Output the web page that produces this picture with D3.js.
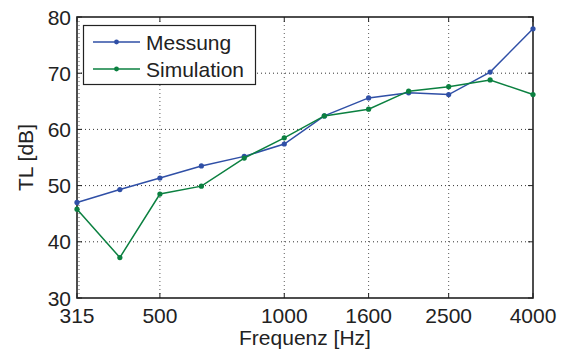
<!DOCTYPE html>
<html><head><meta charset="utf-8">
<script src="https://cdn.jsdelivr.net/npm/d3@7"></script>
<style>body{margin:0;background:#fff}svg{display:block}text{font-family:"Liberation Sans",Arial,sans-serif;fill:#222}</style>
</head><body>
<svg id="c" width="565" height="354"></svg>
<script>
const freqs = [315, 400, 500, 630, 800, 1000, 1250, 1600, 2000, 2500, 3150, 4000];
const messung = [47.0, 49.3, 51.35, 53.5, 55.2, 57.4, 62.4, 65.6, 66.5, 66.2, 70.2, 77.9];
const simulation = [45.8, 37.2, 48.5, 49.9, 54.9, 58.5, 62.4, 63.6, 66.8, 67.6, 68.8, 66.2];
const xTicks = [315, 500, 1000, 1600, 2500, 4000];
const yTicks = [30, 40, 50, 60, 70, 80];
const seriesNames = ["Messung", "Simulation"];
const colors = ["#2f4fa6", "#0b8040"];

const svg = d3.select("#c");
const L = 77, R = 533, T = 17, B = 298;
const FS = 21;
const x = d3.scaleLog().domain([315, 4000]).range([L, R]);
const y = d3.scaleLinear().domain([30, 80]).range([B, T]);

// grid
const g = svg.append("g");
g.selectAll(".hg").data(yTicks.slice(1, -1)).join("line")
  .attr("x1", L).attr("x2", R).attr("y1", d => y(d)).attr("y2", d => y(d))
  .attr("stroke", "#333").attr("stroke-width", 1).attr("stroke-dasharray", "1,3");
g.selectAll(".vg").data(xTicks.slice(0, -1)).join("line")
  .attr("x1", d => x(d) + (d === 315 ? 2 : 0)).attr("x2", d => x(d) + (d === 315 ? 2 : 0))
  .attr("y1", T).attr("y2", B)
  .attr("stroke", "#333").attr("stroke-width", 1).attr("stroke-dasharray", "1,3").attr("stroke-opacity", 0.8);

// ticks inward on all sides
const tl = 5;
yTicks.forEach(v => {
  svg.append("line").attr("x1", L).attr("x2", L + tl).attr("y1", y(v)).attr("y2", y(v)).attr("stroke", "#222");
  svg.append("line").attr("x1", R).attr("x2", R - tl).attr("y1", y(v)).attr("y2", y(v)).attr("stroke", "#222");
});
xTicks.forEach(v => {
  svg.append("line").attr("x1", x(v)).attr("x2", x(v)).attr("y1", B).attr("y2", B - tl).attr("stroke", "#222");
  svg.append("line").attr("x1", x(v)).attr("x2", x(v)).attr("y1", T).attr("y2", T + tl).attr("stroke", "#222");
});

// frame
svg.append("rect").attr("x", L).attr("y", T).attr("width", R - L).attr("height", B - T)
  .attr("fill", "none").attr("stroke", "#222").attr("stroke-width", 1.6);

// tick labels
svg.selectAll(".yl").data(yTicks).join("text")
  .attr("x", L - 6).attr("y", d => y(d) + 7.5).attr("text-anchor", "end")
  .attr("font-size", FS).text(d => d);
svg.selectAll(".xl").data(xTicks).join("text")
  .attr("x", d => x(d)).attr("y", B + 25).attr("text-anchor", "middle")
  .attr("font-size", FS).text(d => d);

// axis titles
svg.append("text").attr("x", (L + R) / 2).attr("y", 345).attr("text-anchor", "middle")
  .attr("font-size", FS).text("Frequenz [Hz]");
svg.append("text").attr("transform", "translate(33," + ((T + B) / 2) + ") rotate(-90)")
  .attr("text-anchor", "middle").attr("font-size", FS).text("TL [dB]");

// series
const data = [messung, simulation];
const line = d3.line().x((d, i) => x(freqs[i])).y(d => y(d));
data.forEach((vals, k) => {
  svg.append("path").datum(vals).attr("d", line).attr("fill", "none")
    .attr("stroke", colors[k]).attr("stroke-width", 1.5);
  svg.selectAll(".m" + k).data(vals).join("circle")
    .attr("cx", (d, i) => x(freqs[i])).attr("cy", d => y(d)).attr("r", 2.6)
    .attr("fill", colors[k]);
});

// legend
const lg = svg.append("g");
lg.append("rect").attr("x", 83.5).attr("y", 25.5).attr("width", 172).attr("height", 59)
  .attr("fill", "#fff").attr("stroke", "#222").attr("stroke-width", 1.2);
seriesNames.forEach((n, k) => {
  const yy = 42 + k * 27;
  lg.append("line").attr("x1", 93).attr("x2", 140).attr("y1", yy).attr("y2", yy)
    .attr("stroke", colors[k]).attr("stroke-width", 1.5);
  lg.append("circle").attr("cx", 116.5).attr("cy", yy).attr("r", 2.4).attr("fill", colors[k]);
  lg.append("text").attr("x", 146).attr("y", yy + 7.5).attr("font-size", FS).text(n);
});
</script>
</body></html>
